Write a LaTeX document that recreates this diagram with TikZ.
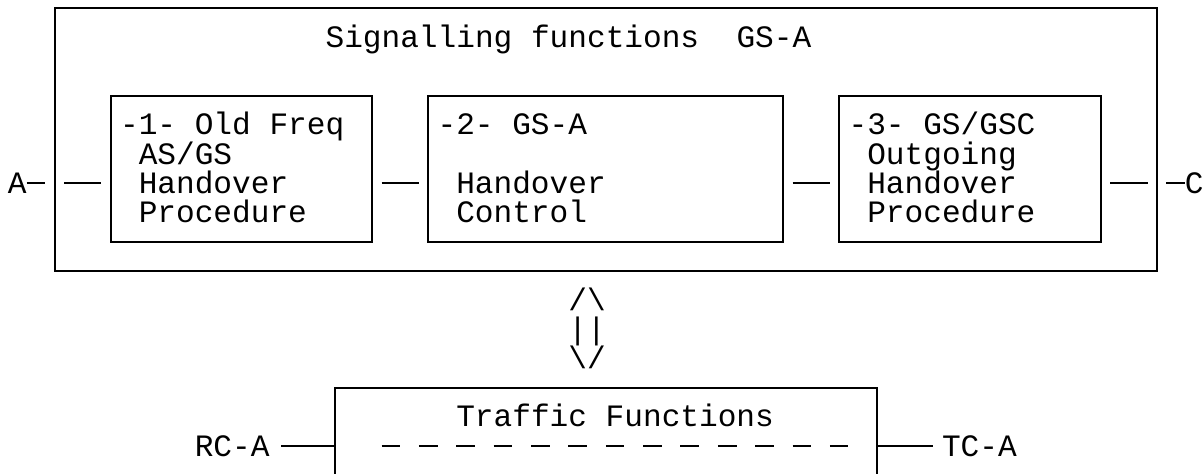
\documentclass[tikz,border=0pt]{standalone}
\usepackage{fontspec}
\usepackage{tikz}
\usetikzlibrary{positioning}
\newfontfamily\asciifont{Liberation Mono}[WordSpace={1,0,0}]
\newcommand{\boxfont}{\asciifont\fontsize{31.13pt}{29.2pt}\selectfont}
\newcommand{\ind}{\hphantom{-}}

\begin{document}
\begin{tikzpicture}[x=1pt,y=-1pt,-,line width=2pt,outer sep=0pt,inner sep=0pt]
	\tikzstyle{blk}=[draw, rectangle, minimum height=146pt, minimum width=261.5pt]
	\tikzstyle{txt}=[font=\boxfont, align=left]
	\tikzstyle{gap}=[shorten <=9.3pt, shorten >=9.3pt]
	\useasboundingbox (0,0) rectangle (1203,474);
	\coordinate (row) at (0,183.2);
	\coordinate (trow) at (0,446);
	\node[draw, rectangle, minimum width=1102.1pt, minimum height=262.8pt] (sig) at (605.75,139.4) {};
	\node[txt, anchor=base west] (title) at (325.6,47.2) {Signalling functions\ \ GS-A};
	\node[blk, minimum width=354.9pt] (ctrl) at (605.75,168.6) {};
	\node[blk] (old) [left=56.1pt of ctrl] {};
	\node[blk] (out) [right=56pt of ctrl] {};
	\node[txt, anchor=north west] (oldtxt) at (120.1,110.8) {\rule{0pt}{24pt}-1- Old Freq\\\ind AS/GS\\\ind Handover\\\ind Procedure};
	\node[txt, anchor=north west] (ctrltxt) at (437.6,110.8) {\rule{0pt}{24pt}-2- GS-A\\\mbox{}\\\ind Handover\\\ind Control};
	\node[txt, anchor=north west] (outtxt) at (848.6,110.8) {\rule{0pt}{24pt}-3- GS/GSC\\\ind Outgoing\\\ind Handover\\\ind Procedure};
	\node[txt, anchor=base west] (A) at (8,193.2) {A};
	\node[txt, anchor=base west] (C) at (1184.8,193.2) {C};
	\path[gap]
		(sig.west |- row) edge (old.west |- row)
		(old.east |- row) edge (ctrl.west |- row)
		(ctrl.east |- row) edge (out.west |- row)
		(out.east |- row) edge (sig.east |- row);
	\draw[shorten >=9.3pt] (A.east |- row) -- (sig.west |- row);
	\draw[shorten <=9.3pt] (sig.east |- row) -- (C.west |- row);
	\node[txt, anchor=base west] (up) at (568.4,310) {/\textbackslash};
	\node[txt, anchor=base west] (bars) at (568.4,339.2) {||};
	\node[txt, anchor=base west] (down) at (568.4,368.4) {\textbackslash/};
	\node[rectangle, minimum width=541.7pt, minimum height=92.4pt] (traffic) at (605.75,433.8) {};
	\draw (traffic.south west) |- (traffic.north east) -- (traffic.south east);
	\node[txt, anchor=base west] (tf) at (456.3,426.8) {Traffic Functions};
	\draw[dash pattern=on 18.68pt off 18.68pt] (381.6,446) -- (848.3,446);
	\node[txt, anchor=base west] (rc) at (194.8,456) {RC-A};
	\node[txt, anchor=base west] (tc) at (942,456) {TC-A};
	\draw[shorten <=11.5pt] (rc.east |- trow) -- (traffic.west |- trow);
	\draw[shorten >=9pt] (traffic.east |- trow) -- (tc.west |- trow);
\end{tikzpicture}
\end{document}
